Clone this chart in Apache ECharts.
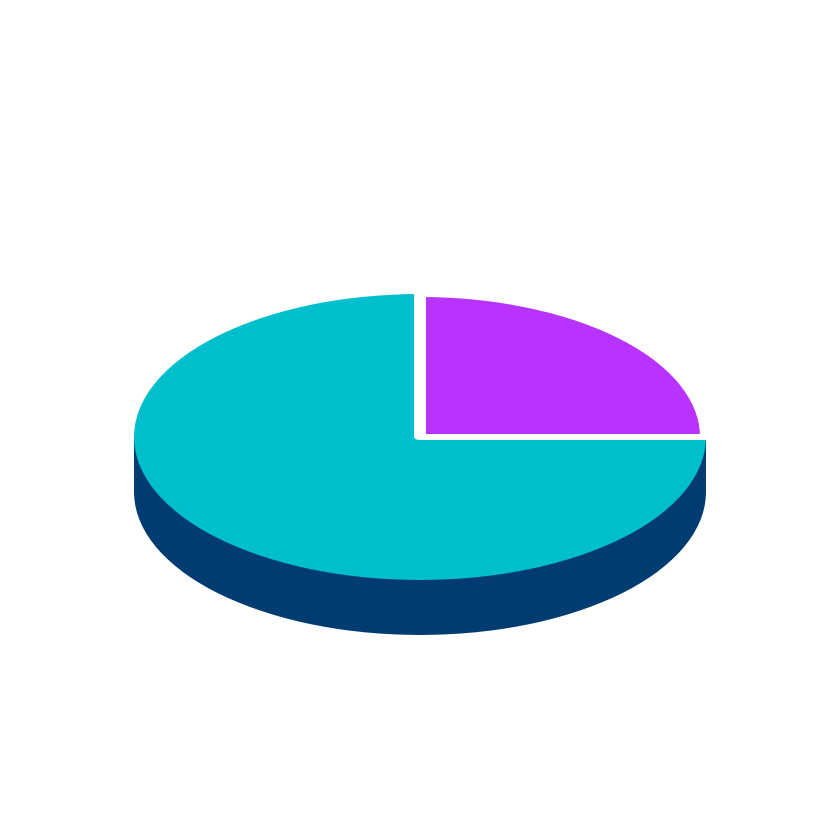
<!DOCTYPE html>
<html>
<head>
	<meta charset="utf-8">
	<title>pie3d</title>
	<script src="https://cdn.jsdelivr.net/npm/echarts@6/dist/echarts.min.js"></script>
	<style type="text/css">
		*{margin:0;padding:0;}
		html,body{width:835px;height:835px;overflow:hidden;background:#fff;}
		/* the pie is drawn round and squashed to an ellipse here */
		#main{width:835px;height:1670px;transform:scaleY(0.5);transform-origin:0 0;}
	</style>
</head>
<body>
	<div id="main"></div>
	<script type="text/javascript">
		// data
		var names = ['A', 'B'];
		var values = [75, 25];
		var colors = ['#00bfcc', '#b833ff'];
		var sideColor = '#003c71';

		// geometry (chart px, y doubled because of the squash)
		var cx = 420, cy = 874, r = 286, depth = 110;

		var topData = [], sideData = [];
		for (var i = 0; i < names.length; i++) {
			topData.push({
				name: names[i],
				value: values[i],
				itemStyle: {
					color: colors[i],
					borderColor: i === 0 ? colors[i] : '#fff',
					borderWidth: i === 0 ? 0 : 12
				}
			});
			sideData.push({name: names[i], value: values[i], itemStyle: {color: sideColor}});
		}

		var myChart = echarts.init(document.getElementById('main'));
		var option = {
			animation: false,
			graphic: [{
				type: 'rect',
				z: 0,
				shape: {x: cx - r, y: cy, width: 2 * r, height: depth},
				style: {fill: sideColor}
			}],
			series: [
				{
					type: 'pie',
					z: 1,
					silent: true,
					center: [cx, cy + depth],
					radius: r,
					startAngle: 90,
					clockwise: false,
					label: {show: false},
					labelLine: {show: false},
					data: sideData
				},
				{
					type: 'pie',
					z: 3,
					center: [cx, cy],
					radius: r,
					startAngle: 90,
					clockwise: false,
					label: {show: false},
					labelLine: {show: false},
					emphasis: {disabled: true},
					data: topData
				}
			]
		};
		myChart.setOption(option);
	</script>
</body>
</html>
